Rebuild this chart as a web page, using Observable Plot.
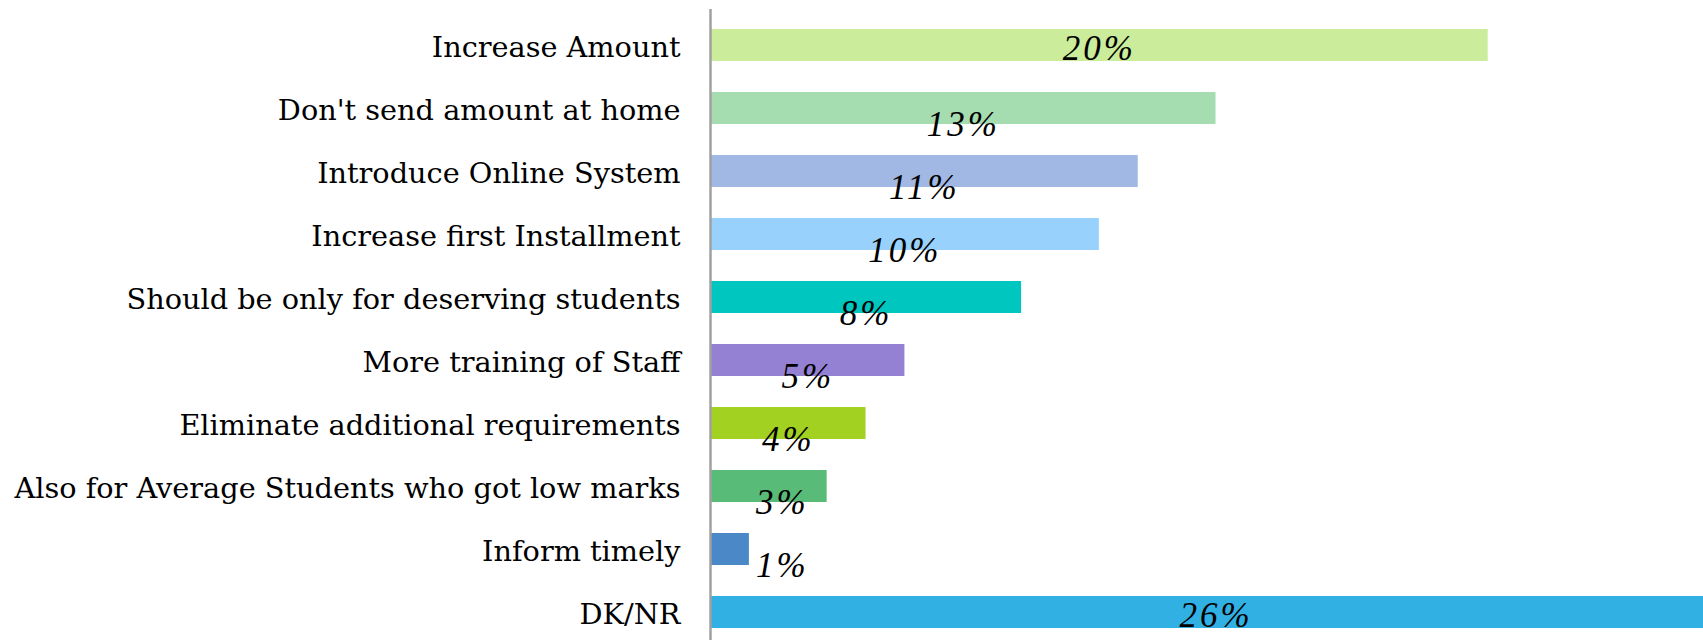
<!DOCTYPE html>
<html>
<head>
<meta charset="utf-8">
<script src="https://cdn.jsdelivr.net/npm/d3@7"></script>
<script src="https://cdn.jsdelivr.net/npm/@observablehq/plot@0.6"></script>
<style>
  html, body { margin: 0; padding: 0; background: #ffffff; overflow: hidden; }
  #chart svg { display: block; }
  #chart g[font-style="italic"] text { letter-spacing: 3px; }
</style>
</head>
<body>
<div id="chart"></div>
<script>
const categories = [
  "Increase Amount",
  "Don't send amount at home",
  "Introduce Online System",
  "Increase first Installment",
  "Should be only for deserving students",
  "More training of Staff",
  "Eliminate additional requirements",
  "Also for Average Students who got low marks",
  "Inform timely",
  "DK/NR"
];
const values = [20, 13, 11, 10, 8, 5, 4, 3, 1, 26];
const colors = ["#caec9b", "#a5dcb0", "#a0b8e3", "#99d1fd", "#00c6c0", "#9581d3", "#a3d122", "#58bb77", "#4a88c7", "#31b0e4"];

const data = categories.map((c, i) => ({category: c, value: values[i], color: colors[i]}));

const chart = Plot.plot({
  width: 1703,
  height: 640,
  marginLeft: 710,
  marginRight: 0,
  marginTop: 9,
  marginBottom: 0,
  style: {background: "#ffffff", color: "#000000"},
  x: {domain: [0, 25.537], axis: null},
  y: {domain: categories, range: [9, 648], paddingInner: 0.4875, paddingOuter: 0.2507, axis: null},
  marks: [
    Plot.barX(data, {x: "value", y: "category", fill: "color"}),
    Plot.ruleX([0], {stroke: "#a0a0a0", strokeWidth: 2.5}),
    Plot.text(data, {
      y: "category", text: "category", frameAnchor: "left", textAnchor: "end", dx: -30, dy: 2,
      fontFamily: "DejaVu Serif", fontSize: 28.75, fill: "#000000"
    }),
    Plot.text(data.filter(d => d.value >= 20), {
      x: d => d.value / 2, y: "category", text: d => d.value + "%", lineAnchor: "bottom", dy: 14,
      fontFamily: "Liberation Serif", fontStyle: "italic", fontSize: 35, fill: "#000000"
    }),
    Plot.text(data.filter(d => d.value < 20), {
      x: d => Math.max(d.value / 2, 1.85), y: "category", text: d => d.value + "%", lineAnchor: "bottom", dy: 27,
      fontFamily: "Liberation Serif", fontStyle: "italic", fontSize: 35, fill: "#000000"
    })
  ]
});
document.getElementById("chart").appendChild(chart);
</script>
</body>
</html>
